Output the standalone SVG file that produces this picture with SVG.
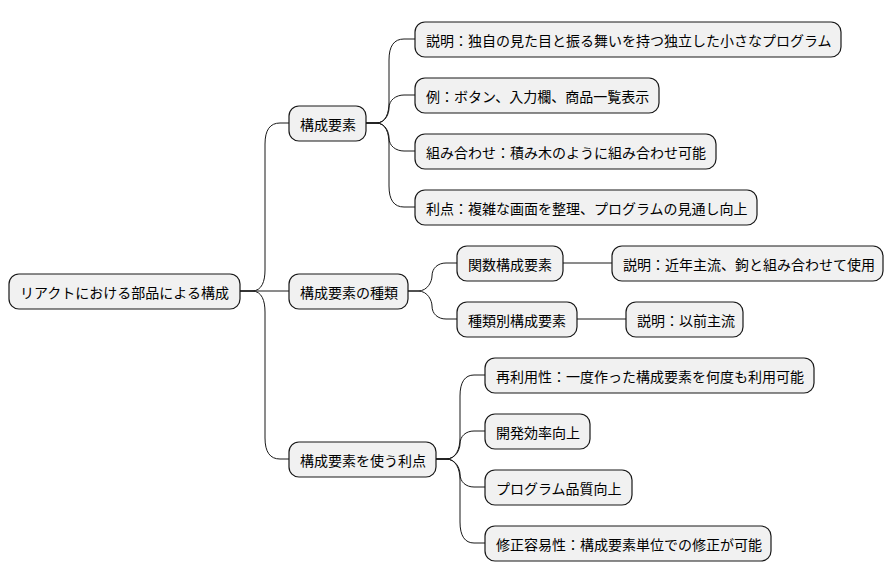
<svg xmlns="http://www.w3.org/2000/svg" width="894" height="583" viewBox="0 0 894 583">
<style>
.n rect{fill:#f1f1f1;stroke:#181818;stroke-width:1.2}
.n text{font-family:"Noto Sans CJK JP","Liberation Sans",sans-serif;font-size:14px;fill:#000;dominant-baseline:central}
#c path{fill:none;stroke:#181818;stroke-width:1}
</style>
<rect width="894" height="583" fill="#fff"/>
<g id="c">
<path d="M240,291 H252 C262,291 265,281 265,270 V144 C265,130 270,123 280,123 H289"/>
<path d="M240,291 H289"/>
<path d="M240,291 H252 C262,291 265,301 265,312 V438 C265,452 270,459 280,459 H289"/>
<path d="M366,123 H376 C386,123 389,113 389,102 V60 C389,46 394,39 404,39 H415"/>
<path d="M366,123 H376 C386,123 389,113 389,108 C389,100 396,95 404,95 H415"/>
<path d="M366,123 H376 C386,123 389,133 389,138 C389,146 396,151 404,151 H415"/>
<path d="M366,123 H376 C386,123 389,133 389,144 V186 C389,200 394,207 404,207 H415"/>
<path d="M408,291 H418 C428,291 432,281 432,276 C432,268 438,263 446,263 H457"/>
<path d="M408,291 H418 C428,291 432,301 432,306 C432,314 438,319 446,319 H457"/>
<path d="M563,263 H612"/>
<path d="M577,319 H626"/>
<path d="M436,459 H446 C456,459 460,449 460,438 V396 C460,382 465,375 474,375 H485"/>
<path d="M436,459 H446 C456,459 460,449 460,444 C460,436 466,431 474,431 H485"/>
<path d="M436,459 H446 C456,459 460,469 460,474 C460,482 466,487 474,487 H485"/>
<path d="M436,459 H446 C456,459 460,469 460,480 V522 C460,536 465,543 474,543 H485"/>
</g>
<g id="root" class="n"><rect x="9" y="274" width="231" height="35" rx="10"/><text x="20" y="291.5">リアクトにおける部品による構成</text></g>
<g id="k1" class="n"><rect x="289" y="106" width="77" height="35" rx="10"/><text x="300" y="123.5">構成要素</text></g>
<g id="k2" class="n"><rect x="289" y="274" width="119" height="35" rx="10"/><text x="300" y="291.5">構成要素の種類</text></g>
<g id="k3" class="n"><rect x="289" y="442" width="147" height="35" rx="10"/><text x="300" y="459.5">構成要素を使う利点</text></g>
<g id="a1" class="n"><rect x="415" y="22" width="426" height="35" rx="10"/><text x="426" y="39.5">説明：独自の見た目と振る舞いを持つ独立した小さなプログラム</text></g>
<g id="a2" class="n"><rect x="415" y="78" width="244" height="35" rx="10"/><text x="426" y="95.5">例：ボタン、入力欄、商品一覧表示</text></g>
<g id="a3" class="n"><rect x="415" y="134" width="301" height="35" rx="10"/><text x="426" y="151.5">組み合わせ：積み木のように組み合わせ可能</text></g>
<g id="a4" class="n"><rect x="415" y="190" width="342" height="35" rx="10"/><text x="426" y="207.5">利点：複雑な画面を整理、プログラムの見通し向上</text></g>
<g id="b1" class="n"><rect x="457" y="246" width="106" height="35" rx="10"/><text x="468" y="263.5">関数構成要素</text></g>
<g id="b2" class="n"><rect x="457" y="302" width="120" height="35" rx="10"/><text x="468" y="319.5">種類別構成要素</text></g>
<g id="b1a" class="n"><rect x="612" y="246" width="271" height="35" rx="10"/><text x="623" y="263.5">説明：近年主流、鉤と組み合わせて使用</text></g>
<g id="b2a" class="n"><rect x="626" y="302" width="117" height="35" rx="10"/><text x="637" y="319.5">説明：以前主流</text></g>
<g id="c1" class="n"><rect x="485" y="358" width="329" height="35" rx="10"/><text x="496" y="375.5">再利用性：一度作った構成要素を何度も利用可能</text></g>
<g id="c2" class="n"><rect x="485" y="414" width="105" height="35" rx="10"/><text x="496" y="431.5">開発効率向上</text></g>
<g id="c3" class="n"><rect x="485" y="470" width="147" height="35" rx="10"/><text x="496" y="487.5">プログラム品質向上</text></g>
<g id="c4" class="n"><rect x="485" y="526" width="286" height="35" rx="10"/><text x="496" y="543.5">修正容易性：構成要素単位での修正が可能</text></g>
</svg>
